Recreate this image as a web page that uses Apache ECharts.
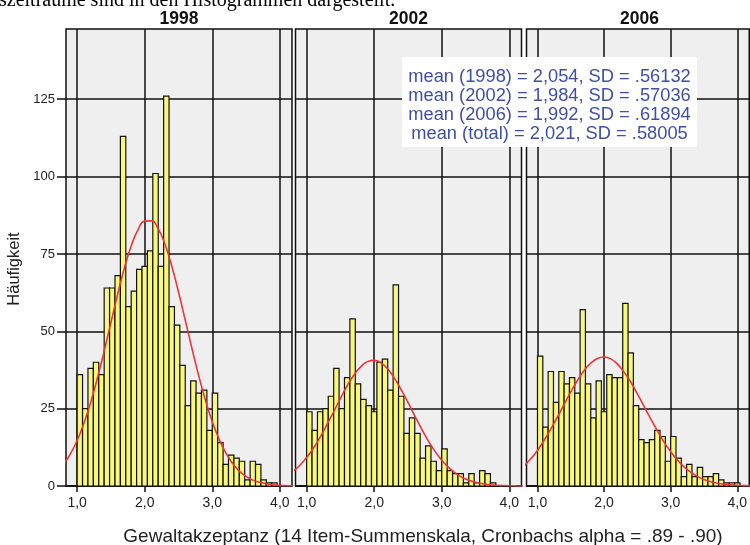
<!DOCTYPE html>
<html><head><meta charset="utf-8">
<script src="https://cdn.jsdelivr.net/npm/echarts@6/dist/echarts.min.js"></script>
<style>html,body{margin:0;padding:0;background:#fff}#c{width:750px;height:545px}</style>
</head><body><div id="c"></div>
<script>
// ---- data ----
const years = ['1998', '2002', '2006'];
const binStart = 1.0;
const binWidth = 0.08;
const counts1998 = [36,25,38,40,36,64,64,68,113,58,63,70,71,76,101,71,126,58,52,39,26,34,30,31,18,30,14,7,10,9,8,2,8,7,2,1,1];
const counts2002 = [24,18,24,25,29,38,25,35,54,33,28,26,24,40,41,31,65,29,17,22,17,9,13,8,5,12,5,4,4,1,4,1,5,4,1];
const counts2006 = [42,19,37,27,37,33,35,30,57,33,22,34,24,36,35,35,59,43,26,15,14,15,18,16,8,16,9,3,7,3,6,3,3,4,2,1,1,1];
const curveX = [0.8,0.9,1.0,1.1,1.2,1.3,1.4,1.5,1.6,1.7,1.8,1.9,2.0,2.1,2.2,2.3,2.4,2.5,2.6,2.7,2.8,2.9,3.0,3.1,3.2,3.3,3.4,3.5,3.6,3.7,3.8,3.9,4.0,4.1,4.2];
const curve1998 = [7.1,10.4,14.7,20.3,27.0,34.9,43.6,52.8,62.0,70.5,77.6,82.8,85.6,85.7,83.1,78.1,71.1,62.7,53.6,44.4,35.6,27.6,20.8,15.2,10.7,7.3,4.8,3.1,1.9,1.2,0.7,0.4,0.2,0.1,0.05];
const curve2002 = [4.7,6.7,9.2,12.2,15.8,19.8,24.0,28.3,32.4,35.9,38.5,40.2,40.6,39.8,37.8,34.8,31.1,27.0,22.7,18.5,14.6,11.2,8.3,6.0,4.2,2.8,1.9,1.2,0.7,0.4,0.25,0.14,0.07,0.03,0.02];
const curve2006 = [6.5,8.8,11.5,14.8,18.4,22.3,26.4,30.4,34.1,37.3,39.7,41.2,41.7,41.1,39.4,36.8,33.6,29.8,25.7,21.7,17.8,14.2,11.1,8.4,6.2,4.5,3.1,2.1,1.4,0.9,0.6,0.4,0.2,0.13,0.07];
const xTicks = [1, 2, 3, 4];
const yTicks = [0, 25, 50, 75, 100, 125];
const statLines = [
  'mean (1998) = 2,054, SD = .56132',
  'mean (2002) = 1,984, SD = .57036',
  'mean (2006) = 1,992, SD = .61894',
  'mean (total) = 2,021, SD = .58005'
];
const yTitle = 'Häufigkeit';
const xTitle = 'Gewaltakzeptanz (14 Item-Summenskala, Cronbachs alpha = .89 - .90)';
const topText = 'szeiträume sind in den Histogrammen dargestellt.';

// ---- layout / style ----
const panelLefts = [66, 295.5, 526.5];
const panelW = 226, panelTop = 29, panelH = 457;
const xMin = 0.835, xMax = 4.18, yMax = 147.7;
const lineCol = '#111';
const sans = 'Liberation Sans, Arial, sans-serif';
const allCounts = [counts1998, counts2002, counts2006];
const allCurves = [curve1998, curve2002, curve2006];

const grids = [], xAxes = [], yAxes = [], series = [];
panelLefts.forEach((l, k) => {
  grids.push({left: l, top: panelTop, width: panelW, height: panelH, show: true,
    backgroundColor: '#efefef', borderColor: lineCol, borderWidth: 1.5, containLabel: false});
  xAxes.push({type: 'value', gridIndex: k, min: xMin, max: xMax,
    axisLine: {show: true, lineStyle: {color: lineCol, width: 1.5}},
    axisTick: {show: true, customValues: xTicks, length: 6, lineStyle: {color: lineCol, width: 1.5}},
    axisLabel: {show: true, customValues: xTicks, margin: 10, color: '#222', fontSize: 14, fontFamily: sans,
      formatter: v => v.toFixed(1).replace('.', ',')},
    splitLine: {show: true, lineStyle: {color: lineCol, width: 1.5}}});
  yAxes.push({type: 'value', gridIndex: k, min: 0, max: yMax,
    axisLine: {show: false},
    axisTick: {show: k === 0, customValues: yTicks, length: 9, lineStyle: {color: lineCol, width: 1.5}},
    axisLabel: {show: k === 0, customValues: yTicks, margin: 11, color: '#222', fontSize: 13, fontFamily: sans},
    splitLine: {show: true, lineStyle: {color: lineCol, width: 1.5}}});
  series.push({
    type: 'custom', xAxisIndex: k, yAxisIndex: k, z: 3,
    data: allCounts[k].map((c, i) => [binStart + i * binWidth, c]),
    renderItem: (params, api) => {
      const x0 = api.value(0), c = api.value(1);
      if (!c) return null;
      const p0 = api.coord([x0, 0]);
      const p1 = api.coord([x0 + binWidth, c]);
      return {type: 'rect',
        shape: {x: p0[0], y: p1[1], width: p1[0] - p0[0], height: p0[1] - p1[1]},
        style: {fill: '#f8f87c', stroke: '#111', lineWidth: 1.2}};
    }
  });
  series.push({
    type: 'line', xAxisIndex: k, yAxisIndex: k, z: 4, smooth: true, showSymbol: false,
    data: curveX.map((x, i) => [x, allCurves[k][i]]),
    lineStyle: {color: '#e8363b', width: 1.6}
  });
});

const graphic = [
  {type: 'text', x: -1, y: 11, style: {text: topText, font: '20px "Liberation Serif", "Times New Roman", serif', fill: '#000', textAlign: 'left', align: 'left', textVerticalAlign: 'bottom', verticalAlign: 'bottom'}},
  {type: 'text', x: 14, y: 269, rotation: Math.PI / 2, style: {text: yTitle, font: '16.5px ' + sans, fill: '#222', textAlign: 'center', align: 'center', textVerticalAlign: 'middle', verticalAlign: 'middle'}},
  {type: 'text', x: 423, y: 537, style: {text: xTitle, font: '19px ' + sans, fill: '#222', textAlign: 'center', align: 'center', textVerticalAlign: 'middle', verticalAlign: 'middle'}},
  {type: 'rect', shape: {x: 402, y: 57, width: 295, height: 90}, style: {fill: '#fff'}, z: 10}
];
years.forEach((y, k) => {
  graphic.push({type: 'text', x: panelLefts[k] + panelW / 2, y: 19, style: {text: y, font: 'bold 17.5px ' + sans, fill: '#111', textAlign: 'center', align: 'center', textVerticalAlign: 'middle', verticalAlign: 'middle'}});
});
statLines.forEach((s, i) => {
  graphic.push({type: 'text', x: 549.5, y: 77 + i * 18.9, z: 11, style: {text: s, font: '18.3px ' + sans, fill: '#3f50a4', textAlign: 'center', align: 'center', textVerticalAlign: 'middle', verticalAlign: 'middle'}});
});

const chart = echarts.init(document.getElementById('c'), null, {renderer: 'canvas'});
chart.setOption({animation: false, grid: grids, xAxis: xAxes, yAxis: yAxes, series: series, graphic: graphic});
</script>
</body></html>
